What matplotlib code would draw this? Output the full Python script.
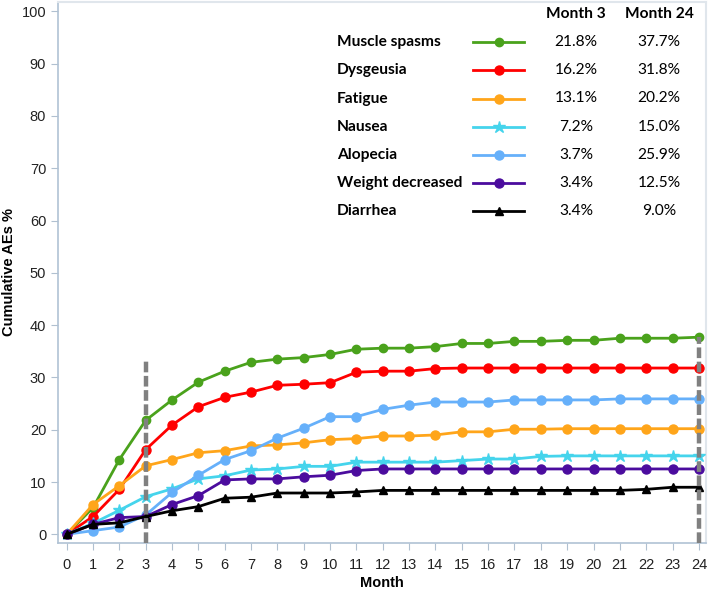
import matplotlib
matplotlib.use("Agg")
from matplotlib import pyplot as plt
import numpy as np

plt.rcParams["font.family"] = ["Liberation Sans", "DejaVu Sans"]

# Datos
months = list(range(25))

muscle_spasms = [0, 5.1, 14.3, 21.8, 25.7, 29.1, 31.2, 32.9, 33.5, 33.8, 34.4, 35.4, 35.6,
                 35.6, 35.9, 36.5, 36.5, 36.9, 36.9, 37.1, 37.1, 37.5, 37.5, 37.5, 37.7]
dysgeusia = [0, 3.4, 8.6, 16.2, 20.9, 24.4, 26.2, 27.2, 28.5, 28.7, 29.0, 31.0, 31.2,
             31.2, 31.7, 31.8, 31.8, 31.8, 31.8, 31.8, 31.8, 31.8, 31.8, 31.8, 31.8]
fatigue = [0, 5.7, 9.3, 13.1, 14.3, 15.6, 16.0, 16.9, 17.1, 17.5, 18.1, 18.3, 18.8,
           18.8, 19.0, 19.6, 19.6, 20.1, 20.1, 20.2, 20.2, 20.2, 20.2, 20.2, 20.2]
nausea = [0, 2.1, 4.6, 7.2, 8.7, 10.6, 11.2, 12.3, 12.5, 13.0, 13.0, 13.8, 13.8,
          13.8, 13.8, 14.1, 14.4, 14.4, 14.9, 15.0, 15.0, 15.0, 15.0, 15.0, 15.0]
alopecia = [0, 0.7, 1.4, 3.7, 8.0, 11.3, 14.3, 16.0, 18.4, 20.3, 22.5, 22.5, 23.9,
            24.7, 25.3, 25.3, 25.3, 25.7, 25.7, 25.7, 25.7, 25.9, 25.9, 25.9, 25.9]
weight_decreased = [0, 1.9, 3.2, 3.4, 5.7, 7.4, 10.4, 10.6, 10.6, 11.0, 11.3, 12.2, 12.5,
                    12.5, 12.5, 12.5, 12.5, 12.5, 12.5, 12.5, 12.5, 12.5, 12.5, 12.5, 12.5]
diarrhea = [0, 1.9, 2.2, 3.4, 4.5, 5.3, 6.9, 7.1, 7.9, 7.9, 7.9, 8.1, 8.4,
            8.4, 8.4, 8.4, 8.4, 8.4, 8.4, 8.4, 8.4, 8.4, 8.6, 9.0, 9.0]

names = ["Muscle spasms", "Dysgeusia", "Fatigue", "Nausea", "Alopecia",
         "Weight decreased", "Diarrhea"]
series = [muscle_spasms, dysgeusia, fatigue, nausea, alopecia, weight_decreased, diarrhea]
month3 = ["21.8%", "16.2%", "13.1%", "7.2%", "3.7%", "3.4%", "3.4%"]
month24 = ["37.7%", "31.8%", "20.2%", "15.0%", "25.9%", "12.5%", "9.0%"]

colors = ["#4aa21c", "#ff0000", "#ffa51a", "#45d4ec", "#66b0fa", "#4b0c9e", "#000000"]
markers = ["o", "o", "o", "*", "o", "o", "^"]
msizes = [6, 6.5, 6.5, 9, 6.5, 6.5, 5.5]

fig = plt.figure(figsize=(7.08, 5.91), dpi=100)
ax = fig.add_axes([58 / 708, 1 - 543 / 591, 648 / 708, 541 / 591])

# lineas verticales punteadas (mes 3 y mes 24)
ax.plot([3, 3], [-1.7, 33.5], color="#808080", lw=3.2, ls=(0, (2.4, 0.8)), zorder=4)
ax.plot([24, 24], [-1.7, 37.7], color="#808080", lw=3.2, ls=(0, (2.4, 0.8)), zorder=4)

order = [0, 1, 4, 2, 3, 5, 6]
for i in order:
    ax.plot(months, series[i], color=colors[i], marker=markers[i], ms=msizes[i],
            lw=2, zorder=3 + i * 0.01)

ax.set_xlim(-0.33, 24.27)
ax.set_ylim(-1.66, 101.8)
ax.set_xticks(months)
ax.set_yticks(range(0, 101, 10))
ax.tick_params(axis="both", labelsize=10.5, colors="#b0c0d0", labelcolor="#222222",
               length=5, width=0.8)
ax.tick_params(axis="x", pad=6)

for side in ["left", "bottom"]:
    ax.spines[side].set_color("#b0c2d4")
    ax.spines[side].set_linewidth(1.2)
for side in ["top", "right"]:
    ax.spines[side].set_color("#e0e6ec")
    ax.spines[side].set_linewidth(1.5)


def fy(py):
    return 1 - (py - 2) / 541


def fx(px):
    return (px - 58) / 648


ax.set_xlabel("Month", fontsize=10.5, fontweight="bold")
ax.set_ylabel("Cumulative AEs %", fontsize=10.5, fontweight="bold")
ax.xaxis.set_label_coords(0.5, fy(583))
ax.xaxis.label.set_va("center")
ax.yaxis.set_label_coords(fx(9), 0.5)
ax.yaxis.label.set_va("center")

# Tabla de leyenda
lfont = ["Lato", "DejaVu Sans"]
fs = 11.2
ax.text(fx(576), fy(14), "Month 3", transform=ax.transAxes, ha="center", va="center",
        fontsize=fs, fontweight="bold", family=lfont)
ax.text(fx(659), fy(14), "Month 24", transform=ax.transAxes, ha="center", va="center",
        fontsize=fs, fontweight="bold", family=lfont)
for i, name in enumerate(names):
    py = 42.3 + i * 28.1
    ax.text(fx(337), fy(py), name, transform=ax.transAxes, ha="left", va="center",
            fontsize=fs, fontweight="bold", family=lfont)
    ax.plot([fx(473), fx(524)], [fy(py), fy(py)], transform=ax.transAxes,
            color=colors[i], lw=2, zorder=3)
    ax.plot([fx(499)], [fy(py)], transform=ax.transAxes, color=colors[i],
            marker=markers[i], ms=msizes[i], zorder=3)
    ax.text(fx(576), fy(py), month3[i], transform=ax.transAxes, ha="center", va="center",
            fontsize=fs, family=lfont)
    ax.text(fx(659), fy(py), month24[i], transform=ax.transAxes, ha="center", va="center",
            fontsize=fs, family=lfont)

fig.savefig("out.png", dpi=100)
